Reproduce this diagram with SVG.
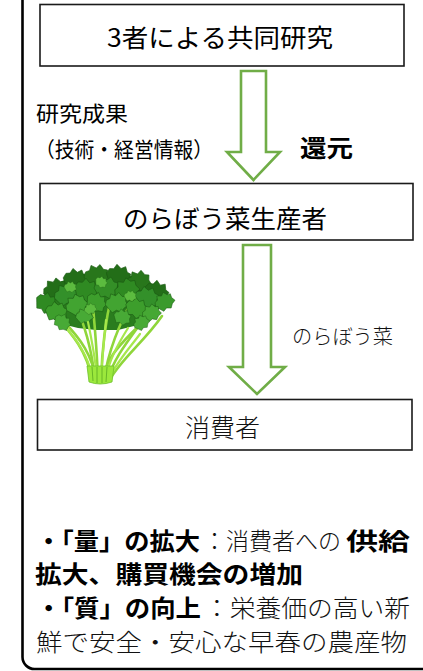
<svg xmlns="http://www.w3.org/2000/svg" width="423" height="671" viewBox="0 0 423 671">
  <style>
    .box { fill: #ffffff; stroke: #1a1a1a; stroke-width: 1.6; }
    .arrow { fill: #ffffff; stroke: #70AD47; stroke-width: 2.6; stroke-linejoin: miter; }
    .frame { fill: none; stroke: #000000; stroke-width: 2.6; }
    .g { font-family: "Noto Sans CJK JP", "Liberation Sans", sans-serif; fill: #000000; }
    .m { font-family: "Noto Sans CJK JP", "Liberation Sans", sans-serif; font-weight: 300; fill: #111111; }
    .b { font-family: "Noto Sans CJK JP", "Liberation Sans", sans-serif; font-weight: 700; fill: #000000; }
    .stem { stroke-linecap: round; fill: none; }
    .lf { stroke: #1b5a12; stroke-width: 0.6; }
  </style>
  <defs>
    <!-- jagged leaf blade, centred on the origin -->
    <path id="leaf" d="M-12,0 L-10,-5 L-6,-6 L-4,-11 L1,-8 L5,-11 L8,-6 L12,-5 L11,0 L13,5 L8,7 L4,11 L-1,8 L-6,10 L-9,5 Z"/>
  </defs>

  <!-- outer frame (rounded, continues past the top and right edges) -->
  <rect class="frame" x="22.5" y="-40" width="460" height="709" rx="12" ry="12"/>

  <!-- connectors -->
  <g id="connectors">
    <polygon class="arrow" points="241,71 266,71 266,152 280,152 253.5,180 227,152 241,152"/>
    <polygon class="arrow" points="243,245 271,245 271,367 285,367 257,394 229,367 243,367"/>
    <text class="g" x="36" y="121" font-size="21" textLength="92" lengthAdjust="spacingAndGlyphs">研究成果</text>
    <text class="g" x="35" y="157" font-size="21" textLength="178" lengthAdjust="spacingAndGlyphs">（技術・経営情報）</text>
    <text class="b" x="300" y="157" font-size="24" textLength="53" lengthAdjust="spacingAndGlyphs">還元</text>
    <text class="m" x="292" y="344" font-size="20" textLength="101" lengthAdjust="spacingAndGlyphs">のらぼう菜</text>
  </g>

  <!-- node: joint research -->
  <g id="node-research">
    <rect class="box" x="40" y="4.5" width="364" height="61.5"/>
    <text class="g" x="107" y="47" font-size="25" textLength="226" lengthAdjust="spacingAndGlyphs">3者による共同研究</text>
  </g>

  <!-- node: producers -->
  <g id="node-producers">
    <rect class="box" x="40" y="183.5" width="373" height="56.5"/>
    <text class="g" x="123" y="228" font-size="25" textLength="204" lengthAdjust="spacingAndGlyphs">のらぼう菜生産者</text>
  </g>

  <!-- node: consumers -->
  <g id="node-consumers">
    <rect class="box" x="37.5" y="399.5" width="374.5" height="50.5"/>
    <text class="m" x="185" y="437" font-size="25" textLength="75" lengthAdjust="spacingAndGlyphs">消費者</text>
  </g>

  <!-- bunch of norabou-na greens -->
  <g id="greens">
    <!-- dense leaf mass behind everything -->
    <path d="M42,302 L50,290 L60,282 L74,276 L92,272 L112,272 L132,276 L148,284 L162,292 L170,300 L160,308 L148,318 L134,326 L118,330 L96,330 L78,328 L62,324 L48,316 Z" fill="#2a7d1e"/>
    <!-- stems -->
    <g class="stem" stroke="#8fd63a" stroke-width="2.6">
      <path d="M92,381 C88,352 72,334 54,314"/>
      <path d="M95,381 C92,348 84,324 74,300"/>
      <path d="M98,381 C97,348 94,318 92,296"/>
      <path d="M101,381 C102,348 106,318 112,294"/>
      <path d="M104,381 C108,350 120,324 132,300"/>
      <path d="M107,381 C115,354 134,334 150,310"/>
      <path d="M109,381 C120,360 144,342 162,316"/>
      <path d="M96,381 C93,356 80,338 64,322"/>
      <path d="M103,381 C106,354 126,340 142,322"/>
    </g>
    <!-- leaves, back to front -->
    <g class="lf">
      <use href="#leaf" fill="#236e18" transform="translate(55,290) rotate(-20)"/>
      <use href="#leaf" fill="#236e18" transform="translate(75,280) rotate(10)"/>
      <use href="#leaf" fill="#28761b" transform="translate(96,276) rotate(-5)"/>
      <use href="#leaf" fill="#236e18" transform="translate(118,276) rotate(15)"/>
      <use href="#leaf" fill="#28761b" transform="translate(138,282) rotate(-10)"/>
      <use href="#leaf" fill="#236e18" transform="translate(156,292) rotate(25)"/>
      <use href="#leaf" fill="#2f8a22" transform="translate(46,303) rotate(30) scale(0.9)"/>
      <use href="#leaf" fill="#33902a" transform="translate(66,295) rotate(-15)"/>
      <use href="#leaf" fill="#2f8a22" transform="translate(86,290) rotate(20)"/>
      <use href="#leaf" fill="#348f27" transform="translate(106,288)"/>
      <use href="#leaf" fill="#2f8a22" transform="translate(126,290) rotate(-25)"/>
      <use href="#leaf" fill="#33902a" transform="translate(146,298) rotate(10)"/>
      <use href="#leaf" fill="#3a9a2c" transform="translate(164,302) rotate(-30) scale(0.8)"/>
      <use href="#leaf" fill="#3d9e2c" transform="translate(56,312) rotate(10) scale(0.9)"/>
      <use href="#leaf" fill="#42a431" transform="translate(76,305) rotate(-30) scale(0.9)"/>
      <use href="#leaf" fill="#3d9e2c" transform="translate(96,302) rotate(35) scale(0.85)"/>
      <use href="#leaf" fill="#42a431" transform="translate(116,303) rotate(-10) scale(0.9)"/>
      <use href="#leaf" fill="#3d9e2c" transform="translate(136,308) rotate(20) scale(0.9)"/>
      <use href="#leaf" fill="#46a834" transform="translate(151,313) rotate(-20) scale(0.75)"/>
      <use href="#leaf" fill="#48aa36" transform="translate(62,322) rotate(40) scale(0.7)"/>
      <use href="#leaf" fill="#48aa36" transform="translate(84,316) rotate(-10) scale(0.7)"/>
      <use href="#leaf" fill="#48aa36" transform="translate(122,317) rotate(15) scale(0.7)"/>
      <use href="#leaf" fill="#48aa36" transform="translate(141,323) rotate(-35) scale(0.65)"/>
      <use href="#leaf" fill="#5cbb3f" transform="translate(70,287) scale(0.5)"/>
      <use href="#leaf" fill="#5cbb3f" transform="translate(101,282) rotate(30) scale(0.5)"/>
      <use href="#leaf" fill="#5cbb3f" transform="translate(130,296) scale(0.5)"/>
      <use href="#leaf" fill="#5cbb3f" transform="translate(90,309) rotate(-20) scale(0.5)"/>
    </g>
    <!-- lower stems in front of the leaves -->
    <g class="stem" stroke="#a6e84c" stroke-width="2.2">
      <path d="M93,381 C90,360 80,344 68,330"/>
      <path d="M97,381 C96,360 92,342 88,322"/>
      <path d="M101,381 C102,360 104,340 106,320"/>
      <path d="M105,381 C109,360 118,344 128,328"/>
      <path d="M108,381 C115,364 128,350 140,334"/>
    </g>
    <!-- base of the bunch -->
    <path d="M87,366 L114,366 L112,382 Q100,386 89,382 Z" fill="#9be83c" stroke="#6cc02a" stroke-width="0.8"/>
    <g stroke="#5aa822" stroke-width="0.8">
      <line x1="92" y1="367" x2="93" y2="381"/>
      <line x1="97" y1="367" x2="97" y2="383"/>
      <line x1="102" y1="367" x2="102" y2="383"/>
      <line x1="107" y1="367" x2="106" y2="382"/>
    </g>
  </g>

  <!-- summary text -->
  <g id="summary">
    <text class="b" x="36" y="550" font-size="24" textLength="164" lengthAdjust="spacingAndGlyphs">・「量」の拡大</text>
    <text class="m" x="203" y="550" font-size="24" textLength="138" lengthAdjust="spacingAndGlyphs">：消費者への</text>
    <text class="b" x="346" y="550" font-size="24" textLength="64" lengthAdjust="spacingAndGlyphs">供給</text>
    <text class="b" x="35" y="583" font-size="24" textLength="268" lengthAdjust="spacingAndGlyphs">拡大、購買機会の増加</text>
    <text class="b" x="36" y="617" font-size="24" textLength="165" lengthAdjust="spacingAndGlyphs">・「質」の向上</text>
    <text class="m" x="204" y="617" font-size="24" textLength="206" lengthAdjust="spacingAndGlyphs">：栄養価の高い新</text>
    <text class="m" x="36" y="651" font-size="24" textLength="371" lengthAdjust="spacingAndGlyphs">鮮で安全・安心な早春の農産物</text>
  </g>
</svg>
